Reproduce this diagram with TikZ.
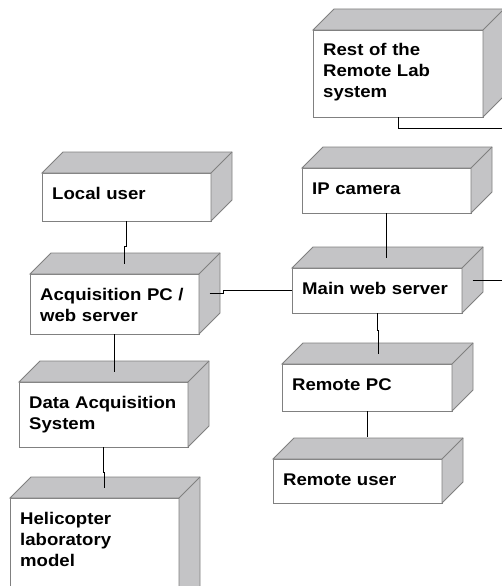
\documentclass[tikz,border=0pt]{standalone}
\usepackage{fontspec}
\newfontfamily\labfont{Liberation Sans}[FakeStretch=1.1]
\definecolor{edgegray}{RGB}{128,128,128}
\definecolor{facegray}{RGB}{196,196,198}
\newcommand\cubebox[6]{%
  \node[front, minimum width={#4-#2}, minimum height={#5-#3}] (#1) at (#2,#3) {};
  \draw[face] (#1.north west) -- ++(21,-21) -- ++(#4-#2,0) -- ++(0,#5-#3) -- (#1.south east) -- (#1.north east) -- cycle;
  \draw[face] (#1.north east) -- ++(21,-21);
  \node[lab] (#1-t) at (#2+10,#3+26) {#6};
}
\begin{document}
\begin{tikzpicture}[x=1pt,y=-1pt,
  front/.style={draw=edgegray, fill=white, line width=0.9pt, rectangle, inner sep=0pt, outer sep=0pt, anchor=north west},
  face/.style={draw=edgegray, fill=facegray, line width=0.9pt, line join=miter},
  conn/.style={draw=black, line width=0.8pt},
  lab/.style={anchor=base west, inner sep=0pt, align=left, text width=165pt, font=\labfont\bfseries\fontsize{16.9}{21}\selectfont}]
\useasboundingbox (0,0) rectangle (502,586);
\clip (0,0) rectangle (502,586);
\fill[white] (0,0) rectangle (502,586);

\cubebox{rest}{313}{30}{483}{117}{Rest of the\\Remote Lab\\system}
\cubebox{local}{42}{173}{211}{221}{Local user}
\cubebox{acq}{30}{274}{199}{334}{Acquisition PC /\\web server}
\cubebox{ipcam}{302}{168}{471}{213}{IP camera}
\cubebox{main}{292}{268}{462}{313}{Main web server}
\cubebox{das}{19}{382}{188}{447}{Data Acquisition\\System}
\cubebox{rpc}{282}{364}{452}{411}{Remote PC}
\cubebox{ruser}{273}{459}{442}{503}{Remote user}
\cubebox{heli}{10}{498}{179}{640}{Helicopter\\laboratory\\model}

\coordinate (restout) at (505,128);
\coordinate (mainout) at (505,280);

\draw[conn] (rest.south) |- (restout);
\draw[conn] (local.south) -- ++(0,25) -- ++(-2,0) -- ++(0,18);
\draw[conn] (acq.south) -- ++(0,38);
\draw[conn] (das.south) -- ++(0,25) -- ++(1,0) -- ++(0,16);
\draw[conn] ([xshift=10.5pt,yshift=10.5pt]acq.east) -- ++(14,0) |- (main.west);
\draw[conn] (ipcam.south) -- ++(0,44.5);
\draw[conn] (main.south) -- ++(0,17) -- ++(1,0) -- ++(0,23.5);
\draw[conn] ([xshift=10.5pt,yshift=10.5pt]main.east) -- (mainout);
\draw[conn] (rpc.south) -- ++(0,13) -- ++(0.5,0) -- ++(0,13);
\end{tikzpicture}
\end{document}
